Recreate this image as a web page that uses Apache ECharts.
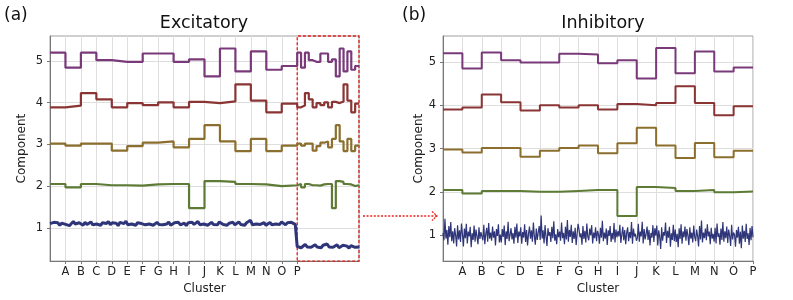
<!DOCTYPE html>
<html>
<head>
<meta charset="utf-8">
<script src="https://cdn.jsdelivr.net/npm/echarts@6/dist/echarts.min.js"></script>
<style>html,body{margin:0;padding:0;background:#fff}#c{width:793px;height:300px}</style>
</head>
<body>
<div id="c"></div>
<script>
// ---- data ----
const clusters = ['A','B','C','D','E','F','G','H','I','J','K','L','M','N','O','P'];
const yTicks = [1,2,3,4,5];

// Excitatory (a): level of each component per cluster segment
const exPurple = [5.20,4.84,5.20,5.02,4.98,4.98,5.18,5.18,4.98,5.04,4.63,5.30,4.75,5.23,4.79,4.88];
const exRed    = [3.89,3.93,4.23,4.08,3.89,3.99,3.94,4.01,3.89,4.02,3.99,4.03,4.44,4.05,3.77,3.98];
const exOlive  = [3.02,2.97,3.02,3.02,2.85,2.96,3.04,3.07,2.93,3.13,3.46,3.07,2.84,3.13,2.84,2.97];
const exGreen  = [2.05,1.97,2.05,2.02,2.02,2.01,2.04,2.05,2.05,1.47,2.12,2.10,2.05,2.04,2.00,2.02];
const exNavy = [
1.10,1.07,1.13,1.09,1.12,1.06,1.11,1.14,1.08,1.12,1.05,1.10,1.15,1.09,1.07,1.12,
1.11,1.06,1.13,1.08,1.10,1.14,1.07,1.11,1.09,1.13,1.06,1.12,1.08,1.10,1.15,1.07,
1.12,1.08,1.11,1.05,1.13,1.09,1.10,1.16,1.07,1.11,1.09,1.13,1.06,1.12,1.08,1.10,
1.14,1.07,1.11,1.09,1.12,1.06,1.10,1.13,1.08,1.12,1.07,1.11,1.09,1.14,1.06,1.10,
1.12,1.08,1.13,1.07,1.10,1.11,1.05,1.12,1.09,1.13,1.08,1.10,1.15,1.07,1.11,1.09,
1.12,1.06,1.10,1.13,1.08,1.11,1.07,1.14,1.10,1.08,1.12,1.06,1.11,1.09,1.13,1.07,
1.11,1.14,1.08,1.10,1.06,1.12,1.09,1.18,1.07,1.11,1.09,1.13,1.08,1.10,1.12,1.06,
1.10,1.13,1.07,1.11,1.09,1.12,1.08,1.14,1.11,1.07,1.12,1.09,1.13,1.10,1.08,1.12];
const exNavyBox = [
0.55,0.58,0.52,0.56,0.60,0.54,0.57,0.53,0.56,0.59,0.54,0.57,0.52,0.58,0.55,0.61,
0.54,0.57,0.53,0.56,0.59,0.52,0.55,0.58,0.54,0.56,0.51,0.57,0.55,0.53,0.56,0.54];

// Inhibitory (b)
const inPurple = [5.20,4.85,5.22,5.04,4.99,4.99,5.19,5.17,4.97,5.04,4.62,5.32,4.74,5.24,4.78,4.87];
const inRed    = [3.90,3.95,4.25,4.07,3.88,4.00,3.95,4.00,3.90,4.03,4.00,4.05,4.44,4.05,3.77,3.98];
const inOlive  = [2.98,2.91,3.01,3.01,2.81,2.95,3.01,3.07,2.89,3.12,3.48,3.07,2.78,3.13,2.80,2.95];
const inGreen  = [2.04,1.96,2.02,2.02,2.00,2.00,2.02,2.04,2.04,1.44,2.11,2.09,2.02,2.04,1.99,2.01];
const inNavy = [
1.05,0.88,1.38,0.92,1.12,0.78,1.21,0.95,1.30,0.86, 1.09,0.81,1.16,0.99,0.74,1.23,0.90,1.11,0.84,1.27,
1.02,0.74,1.15,0.93,1.26,0.81,1.08,0.97,1.19,0.72, 1.04,0.89,1.22,0.85,1.13,0.96,0.79,1.18,0.91,1.07,
1.10,0.88,1.24,0.79,1.03,1.17,0.85,1.28,0.92,1.06, 0.87,1.20,0.94,1.09,0.76,1.14,0.98,1.25,0.83,1.01,
0.83,1.14,0.96,1.22,0.77,1.09,0.91,1.31,0.86,1.01, 1.16,0.90,1.05,0.80,1.19,0.94,1.27,0.82,1.08,0.97,
1.18,0.80,1.07,0.94,1.25,0.84,1.12,0.76,1.03,1.20, 0.92,1.11,0.85,1.29,0.98,0.78,1.15,0.89,1.06,1.21,
0.89,1.45,0.92,1.11,0.81,1.23,0.97,0.75,1.16,0.99, 1.07,0.84,1.19,0.93,1.32,0.87,1.02,0.79,1.14,0.95,
1.08,0.87,1.29,0.93,1.05,0.79,1.19,0.90,1.35,0.85, 1.12,0.96,1.24,0.82,1.09,0.91,1.17,0.77,1.03,1.26,
1.13,0.95,1.04,0.78,1.21,0.91,1.10,0.83,1.27,0.96, 0.88,1.15,1.00,1.23,0.81,1.06,0.93,1.18,0.86,1.10,
1.02,0.80,1.17,0.94,1.33,0.86,1.06,0.92,1.15,0.77, 1.11,0.98,1.21,0.84,1.05,0.90,1.28,0.83,1.13,0.95,
1.09,0.97,1.24,0.82,1.01,1.19,0.88,1.12,0.79,1.05, 1.18,0.86,1.07,0.93,1.30,0.80,1.15,0.97,1.03,0.87,
0.93,1.26,0.85,1.08,0.97,1.31,0.81,1.14,0.90,1.03, 1.20,0.89,1.12,0.76,1.05,0.94,1.23,0.84,1.16,0.99,
1.22,0.76,1.11,0.95,0.68,1.18,0.87,1.07,0.99,1.29, 0.82,1.10,0.94,1.19,0.73,1.04,0.89,1.24,0.86,1.13,
0.84,1.03,0.72,1.16,0.91,1.25,0.80,1.09,0.95,1.20, 0.87,1.14,0.99,0.77,1.18,0.92,1.06,0.83,1.22,0.96,
0.86,1.13,0.98,0.74,1.21,0.90,1.34,0.83,1.06,0.93, 1.15,0.88,1.25,0.97,1.08,0.79,1.17,0.92,1.03,0.85,
1.17,0.81,1.27,0.96,1.04,0.78,1.15,0.89,1.30,0.85, 1.09,0.93,1.20,0.82,1.13,0.98,0.75,1.24,0.90,1.06,
1.01,0.73,1.12,0.94,1.19,0.80,1.08,0.70,1.22,0.92, 1.10,0.84,1.26,0.91,1.04,0.77,1.17,0.88,1.21,0.95];

// ---- helpers ----
const colors = {purple:'#7a3a7a', red:'#8a3434', olive:'#8c6f2e', green:'#5e7b36', navy:'#2f3579'};
function steps(vals, x0, w){const o=[];vals.forEach((v,i)=>{o.push([x0+i*w,v],[x0+(i+1)*w,v]);});return o;}
function spread(vals, x0, x1){const n=vals.length;return vals.map((v,i)=>[x0+i*(x1-x0)/(n-1),v]);}
const font = 'DejaVu Sans';
const tickIdx = clusters.map((c,i)=>i+1);

function xAxisCfg(gi, max){
  return {type:'value', gridIndex:gi, min:0, max:max,
    name:'Cluster', nameLocation:'middle', nameGap:20,
    nameTextStyle:{fontFamily:font, fontSize:12, color:'#222'},
    axisLine:{show:true, lineStyle:{color:'#777', width:1}},
    axisTick:{show:true, length:3, customValues:tickIdx, lineStyle:{color:'#777'}},
    axisLabel:{customValues:tickIdx, margin:5, fontFamily:font, fontSize:11.5, color:'#222',
      formatter:v=>clusters[Math.round(v)-1]||''},
    splitLine:{show:true, lineStyle:{color:'#dedede', width:1}}};
}
function yAxisCfg(gi, min, gap){
  return {type:'value', gridIndex:gi, min:min, max:5.6,
    name:'Component', nameLocation:'middle', nameGap:gap,
    nameTextStyle:{fontFamily:font, fontSize:12, color:'#222'},
    axisLine:{show:true, lineStyle:{color:'#777', width:1}},
    axisTick:{show:true, length:3, customValues:yTicks, lineStyle:{color:'#777'}},
    axisLabel:{customValues:yTicks, margin:7, fontFamily:font, fontSize:11.5, color:'#222'},
    splitLine:{show:true, lineStyle:{color:'#dedede', width:1}}};
}
function line(gi, data, color, w, extra){
  return Object.assign({type:'line', xAxisIndex:gi, yAxisIndex:gi, data:data, showSymbol:false,
    symbol:'none', lineStyle:{color:color, width:w}, itemStyle:{color:color}, silent:true}, extra||{});
}

const series = [
  line(0, steps(exPurple,0,1).concat(steps(exPurple,16,0.25)), colors.purple, 2.2),
  line(0, steps(exRed,0,1).concat(steps(exRed,16,0.25)), colors.red, 2.2),
  line(0, steps(exOlive,0,1).concat(steps(exOlive,16,0.25)), colors.olive, 2.2),
  line(0, steps(exGreen,0,1).concat(steps(exGreen,16,0.25)), colors.green, 2.2),
  line(0, spread(exNavy,0,16).concat(spread(exNavyBox,16,20)), colors.navy, 3, {
    markArea:{silent:true, itemStyle:{color:'rgba(0,0,0,0)', borderColor:'#e0201c', borderWidth:1.3, borderType:[3,2]},
      data:[[{xAxis:16, yAxis:0.2},{xAxis:20, yAxis:5.6}]]}}),
  line(1, steps(inPurple,0,1), colors.purple, 2),
  line(1, steps(inRed,0,1), colors.red, 2),
  line(1, steps(inOlive,0,1), colors.olive, 2),
  line(1, steps(inGreen,0,1), colors.green, 2),
  line(1, spread(inNavy,0,16), colors.navy, 1.2)
];

const chart = echarts.init(document.getElementById('c'), null, {renderer:'canvas'});
chart.setOption({
  animation:false,
  backgroundColor:'#fff',
  grid:[
    {left:50, top:36, width:309, height:230, show:true, borderColor:'#a0a0a0', borderWidth:1},
    {left:443, top:36, width:310, height:230, show:true, borderColor:'#a0a0a0', borderWidth:1}
  ],
  xAxis:[xAxisCfg(0,20), xAxisCfg(1,16)],
  yAxis:[yAxisCfg(0,0.2,22), yAxisCfg(1,0.4,17)],
  title:[
    {text:'Excitatory', left:199, top:9, textAlign:'center', textStyle:{fontFamily:font, fontSize:17.5, fontWeight:'normal', color:'#111'}},
    {text:'Inhibitory', left:598, top:9, textAlign:'center', textStyle:{fontFamily:font, fontSize:17.5, fontWeight:'normal', color:'#111'}},
    {text:'(a)', left:-1, top:2, textStyle:{fontFamily:font, fontSize:17, fontWeight:'normal', color:'#111'}},
    {text:'(b)', left:397, top:2, textStyle:{fontFamily:font, fontSize:17, fontWeight:'normal', color:'#111'}}
  ],
  graphic:[
    {type:'polyline', shape:{points:[[363,216],[437,216]]}, style:{stroke:'#e8251f', lineWidth:1.3, lineDash:[2,1.6], fill:null}, silent:true},
    {type:'polyline', shape:{points:[[432,211.5],[437,216],[432,220.5]]}, style:{stroke:'#e8251f', lineWidth:1.3, lineDash:[2,1], fill:null}, silent:true}
  ],
  series:series
});
</script>
</body>
</html>
